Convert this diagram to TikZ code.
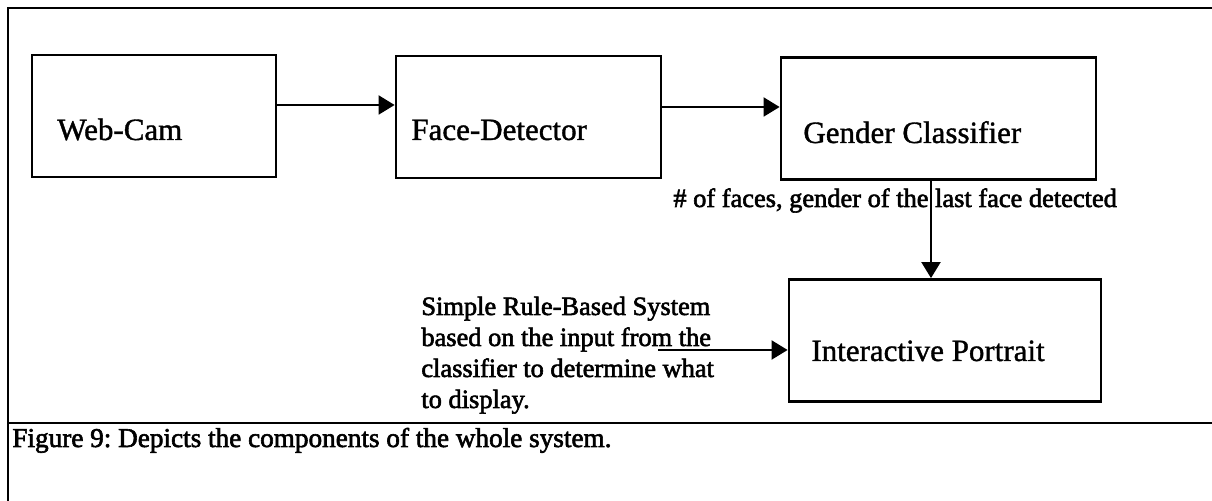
\documentclass[tikz,border=0pt]{standalone}
\usepackage{fontspec}
\setmainfont[FakeBold=1.2]{Liberation Serif}
\newfontfamily\notefont[FakeBold=2.2]{Liberation Serif}
\frenchspacing
\usetikzlibrary{arrows.meta}

\tikzset{
  unit/.style={draw, line width=1.4pt, inner sep=0pt, minimum height=61pt},
  unitlabel/.style={anchor=base west, inner sep=0pt, font=\fontsize{15.5}{18}\selectfont},
  note/.style={anchor=base west, inner sep=0pt, font=\notefont\fontsize{13.2}{16}\selectfont},
  rules/.style={anchor=base west, inner sep=0pt, align=left, font=\notefont\fontsize{13.2}{15.5}\selectfont},
  flow/.style={line width=1pt, -{Triangle[length=8pt,width=9.5pt]}},
  frame/.style={line width=1.3pt}
}

\begin{document}
\begin{tikzpicture}[x=0.5pt, y=-0.5pt]
  \useasboundingbox (0,0) rectangle (1212,501);

  % frame
  \draw[frame] (8,501) -- (8,8) -- (1212,8);
  \draw[frame] (8,423) -- (1212,423);

  % top row
  \node[unit, minimum width=122pt] (webcam) at (154,116) {};
  \node[unit, minimum width=132.5pt] (face) at (528.5,117) {};
  \node[unit, minimum width=157.5pt] (gender) at (938.5,118.5) {};
  \node[unitlabel] (webcamtxt) at (57,140) {Web-Cam};
  \node[unitlabel] (facetxt) at (411,140) {Face-Detector};
  \node[unitlabel] (gendertxt) at (803,143) {Gender Classifier};

  % bottom row
  \node[unit, minimum width=156pt] (portrait) at (945,340.5) {};
  \node[unitlabel] (portraittxt) at (811,361) {Interactive Portrait};

  % notes (base is the last line of the block)
  \node[note] (count) at (673,207) {\# of faces, gender of the last face detected};
  \node[rules] (rulebase) at (421,408) {Simple Rule-Based System\\based on the input from the\\classifier to determine what\\to display.};
  \coordinate (rulein) at (658,350);

  % arrows
  \draw[flow] ([yshift=5.5pt]webcam.east) -- ([yshift=5.5pt]webcam.east -| face.west);
  \draw[flow] ([yshift=5pt]face.east) -- ([yshift=5pt]face.east -| gender.west);
  \draw[flow] ([xshift=-3.75pt]gender.south) -- ([xshift=-3.75pt]gender.south |- portrait.north);
  \draw[flow] (rulein) -- (rulein -| portrait.west);

  % caption
  \node[note, font=\notefont\fontsize{13.6}{16}\selectfont] (caption) at (12,447) {Figure 9: Depicts the components of the whole system.};
\end{tikzpicture}
\end{document}
